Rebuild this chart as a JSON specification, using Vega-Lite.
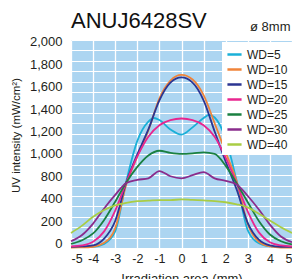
{
  "$schema": "https://vega.github.io/schema/vega-lite/v6.json",
  "width": 221,
  "height": 208,
  "autosize": "none",
  "padding": {"left": 71, "top": 40, "right": 0, "bottom": 31},
  "background": "white",
  "config": {
    "font": "Liberation Sans",
    "view": {"fill": "#acd5f1", "stroke": null},
    "axis": {"labelColor": "#231f20", "titleColor": "#231f20", "titleFontWeight": "normal", "domain": false, "ticks": false}
  },
  "title": {"text": "ANUJ6428SV", "anchor": "start", "frame": "group", "fontSize": 22, "fontWeight": "normal", "color": "#111111", "baseline": "alphabetic", "offset": -30},
  "data": {"values": [
    {"wd":"WD=5","x":-5,"y":8},{"wd":"WD=5","x":-4.5,"y":8},{"wd":"WD=5","x":-4,"y":12},{"wd":"WD=5","x":-3.5,"y":40},{"wd":"WD=5","x":-3,"y":160},{"wd":"WD=5","x":-2.5,"y":640},{"wd":"WD=5","x":-2,"y":1030},{"wd":"WD=5","x":-1.5,"y":1215},{"wd":"WD=5","x":-1.25,"y":1250},{"wd":"WD=5","x":-1,"y":1230},{"wd":"WD=5","x":-0.5,"y":1140},{"wd":"WD=5","x":0,"y":1090},{"wd":"WD=5","x":0.5,"y":1160},{"wd":"WD=5","x":1,"y":1250},{"wd":"WD=5","x":1.25,"y":1280},{"wd":"WD=5","x":1.5,"y":1255},{"wd":"WD=5","x":2,"y":1050},{"wd":"WD=5","x":2.5,"y":640},{"wd":"WD=5","x":3,"y":170},{"wd":"WD=5","x":3.5,"y":45},{"wd":"WD=5","x":4,"y":15},{"wd":"WD=5","x":4.5,"y":8},{"wd":"WD=5","x":5,"y":8},
    {"wd":"WD=10","x":-5,"y":5},{"wd":"WD=10","x":-4.5,"y":6},{"wd":"WD=10","x":-4,"y":12},{"wd":"WD=10","x":-3.5,"y":50},{"wd":"WD=10","x":-3,"y":190},{"wd":"WD=10","x":-2.5,"y":610},{"wd":"WD=10","x":-2,"y":880},{"wd":"WD=10","x":-1.5,"y":1130},{"wd":"WD=10","x":-1,"y":1440},{"wd":"WD=10","x":-0.5,"y":1610},{"wd":"WD=10","x":0,"y":1665},{"wd":"WD=10","x":0.5,"y":1620},{"wd":"WD=10","x":1,"y":1470},{"wd":"WD=10","x":1.5,"y":1200},{"wd":"WD=10","x":2,"y":920},{"wd":"WD=10","x":2.5,"y":640},{"wd":"WD=10","x":3,"y":230},{"wd":"WD=10","x":3.5,"y":60},{"wd":"WD=10","x":4,"y":15},{"wd":"WD=10","x":4.5,"y":5},{"wd":"WD=10","x":5,"y":5},
    {"wd":"WD=15","x":-5,"y":10},{"wd":"WD=15","x":-4.5,"y":15},{"wd":"WD=15","x":-4,"y":25},{"wd":"WD=15","x":-3.5,"y":90},{"wd":"WD=15","x":-3,"y":260},{"wd":"WD=15","x":-2.5,"y":630},{"wd":"WD=15","x":-2,"y":900},{"wd":"WD=15","x":-1.5,"y":1140},{"wd":"WD=15","x":-1,"y":1420},{"wd":"WD=15","x":-0.5,"y":1590},{"wd":"WD=15","x":0,"y":1640},{"wd":"WD=15","x":0.5,"y":1590},{"wd":"WD=15","x":1,"y":1420},{"wd":"WD=15","x":1.5,"y":1120},{"wd":"WD=15","x":2,"y":830},{"wd":"WD=15","x":2.5,"y":560},{"wd":"WD=15","x":3,"y":240},{"wd":"WD=15","x":3.5,"y":80},{"wd":"WD=15","x":4,"y":25},{"wd":"WD=15","x":4.5,"y":12},{"wd":"WD=15","x":5,"y":10},
    {"wd":"WD=20","x":-5,"y":15},{"wd":"WD=20","x":-4.5,"y":25},{"wd":"WD=20","x":-4,"y":60},{"wd":"WD=20","x":-3.5,"y":160},{"wd":"WD=20","x":-3,"y":360},{"wd":"WD=20","x":-2.5,"y":630},{"wd":"WD=20","x":-2,"y":880},{"wd":"WD=20","x":-1.5,"y":1070},{"wd":"WD=20","x":-1,"y":1180},{"wd":"WD=20","x":-0.5,"y":1230},{"wd":"WD=20","x":0,"y":1245},{"wd":"WD=20","x":0.5,"y":1230},{"wd":"WD=20","x":1,"y":1180},{"wd":"WD=20","x":1.5,"y":1070},{"wd":"WD=20","x":2,"y":870},{"wd":"WD=20","x":2.5,"y":620},{"wd":"WD=20","x":3,"y":350},{"wd":"WD=20","x":3.5,"y":150},{"wd":"WD=20","x":4,"y":55},{"wd":"WD=20","x":4.5,"y":25},{"wd":"WD=20","x":5,"y":15},
    {"wd":"WD=25","x":-5,"y":40},{"wd":"WD=25","x":-4.5,"y":75},{"wd":"WD=25","x":-4,"y":140},{"wd":"WD=25","x":-3.5,"y":270},{"wd":"WD=25","x":-3,"y":445},{"wd":"WD=25","x":-2.5,"y":630},{"wd":"WD=25","x":-2,"y":780},{"wd":"WD=25","x":-1.5,"y":890},{"wd":"WD=25","x":-1,"y":935},{"wd":"WD=25","x":-0.5,"y":915},{"wd":"WD=25","x":0,"y":905},{"wd":"WD=25","x":0.5,"y":910},{"wd":"WD=25","x":1,"y":920},{"wd":"WD=25","x":1.5,"y":905},{"wd":"WD=25","x":2,"y":790},{"wd":"WD=25","x":2.5,"y":620},{"wd":"WD=25","x":3,"y":440},{"wd":"WD=25","x":3.5,"y":260},{"wd":"WD=25","x":4,"y":130},{"wd":"WD=25","x":4.5,"y":65},{"wd":"WD=25","x":5,"y":35},
    {"wd":"WD=30","x":-5,"y":65},{"wd":"WD=30","x":-4.5,"y":125},{"wd":"WD=30","x":-4,"y":235},{"wd":"WD=30","x":-3.5,"y":380},{"wd":"WD=30","x":-3,"y":510},{"wd":"WD=30","x":-2.5,"y":625},{"wd":"WD=30","x":-2,"y":655},{"wd":"WD=30","x":-1.5,"y":670},{"wd":"WD=30","x":-1,"y":740},{"wd":"WD=30","x":-0.5,"y":690},{"wd":"WD=30","x":0,"y":670},{"wd":"WD=30","x":0.5,"y":700},{"wd":"WD=30","x":1,"y":730},{"wd":"WD=30","x":1.5,"y":670},{"wd":"WD=30","x":2,"y":645},{"wd":"WD=30","x":2.5,"y":610},{"wd":"WD=30","x":3,"y":500},{"wd":"WD=30","x":3.5,"y":370},{"wd":"WD=30","x":4,"y":225},{"wd":"WD=30","x":4.5,"y":110},{"wd":"WD=30","x":5,"y":55},
    {"wd":"WD=40","x":-5,"y":145},{"wd":"WD=40","x":-4.5,"y":215},{"wd":"WD=40","x":-4,"y":300},{"wd":"WD=40","x":-3.5,"y":365},{"wd":"WD=40","x":-3,"y":410},{"wd":"WD=40","x":-2.5,"y":435},{"wd":"WD=40","x":-2,"y":450},{"wd":"WD=40","x":-1.5,"y":455},{"wd":"WD=40","x":-1,"y":460},{"wd":"WD=40","x":-0.5,"y":460},{"wd":"WD=40","x":0,"y":468},{"wd":"WD=40","x":0.5,"y":462},{"wd":"WD=40","x":1,"y":458},{"wd":"WD=40","x":1.5,"y":450},{"wd":"WD=40","x":2,"y":440},{"wd":"WD=40","x":2.5,"y":420},{"wd":"WD=40","x":3,"y":390},{"wd":"WD=40","x":3.5,"y":330},{"wd":"WD=40","x":4,"y":265},{"wd":"WD=40","x":4.5,"y":200},{"wd":"WD=40","x":5,"y":145}
  ]},
  "layer": [
    {
      "mark": {"type": "line", "opacity": 0},
      "encoding": {
        "x": {"field": "x", "type": "quantitative", "scale": {"domain": [-5, 5], "nice": false},
              "axis": {"orient": "top", "grid": true, "gridColor": "white", "gridWidth": 1.3, "gridOpacity": 1, "labels": false, "values": [-5,-4,-3,-2,-1,0,1,2,3,4,5], "title": null}},
        "y": {"field": "y", "type": "quantitative", "scale": {"domain": [0, 2000], "nice": false},
              "axis": {"orient": "right", "grid": true, "gridColor": "white", "gridWidth": 1.2, "gridOpacity": 1, "labels": false, "values": [0,100,200,300,400,500,600,700,800,900,1000,1100,1200,1300,1400,1500,1600,1700,1800,1900,2000],
                       "title": "ø 8mm", "titleAngle": 0, "titleAlign": "right", "titleBaseline": "alphabetic", "titleFontSize": 13, "titleX": -2, "titleY": -10}},
        "detail": {"field": "wd"}
      }
    },
    {
      "mark": {"type": "line", "interpolate": "monotone", "strokeWidth": 1.8},
      "encoding": {
        "x": {"field": "x", "type": "quantitative", "scale": {"domain": [-5, 5], "nice": false},
              "axis": {"orient": "bottom", "grid": false, "values": [-5,-4,-3,-2,-1,0,1,2,3,4,5], "labelExpr": "'' + datum.value", "labelFontSize": 12.5, "labelPadding": 4, "title": "Irradiation area (mm)", "titleFontSize": 13, "titlePadding": 8}},
        "y": {"field": "y", "type": "quantitative", "scale": {"domain": [0, 2000], "nice": false},
              "axis": {"orient": "left", "grid": false, "values": [40,256,472,688,904,1120,1336,1552,1768,1984], "labelExpr": "['0','200','400','800','1,000','1,200','1,400','1,600','1,800','2,000'][round((datum.value-40)/216)]", "labelFontSize": 13, "labelPadding": 9, "title": "UV intensity (mW/cm²)", "titleFontSize": 11.5, "titlePadding": 8, "titleY": 95}},
        "color": {"field": "wd", "type": "nominal", "sort": ["WD=5","WD=10","WD=15","WD=20","WD=25","WD=30","WD=40"],
                  "scale": {"domain": ["WD=5","WD=10","WD=15","WD=20","WD=25","WD=30","WD=40"], "range": ["#1ab0d8","#f0843a","#2b3592","#e8268f","#1a8041","#8a2c8c","#a9cd44"]},
                  "legend": {"orient": "none", "legendX": 151, "legendY": 2, "title": null, "fillColor": "white", "padding": 4, "symbolType": "stroke", "symbolSize": 200, "symbolStrokeWidth": 2.5, "labelFontSize": 12, "labelOffset": 4, "rowPadding": 0, "labelColor": "#231f20"}}
      }
    }
  ],
  "resolve": {"axis": {"x": "independent", "y": "independent"}}
}
